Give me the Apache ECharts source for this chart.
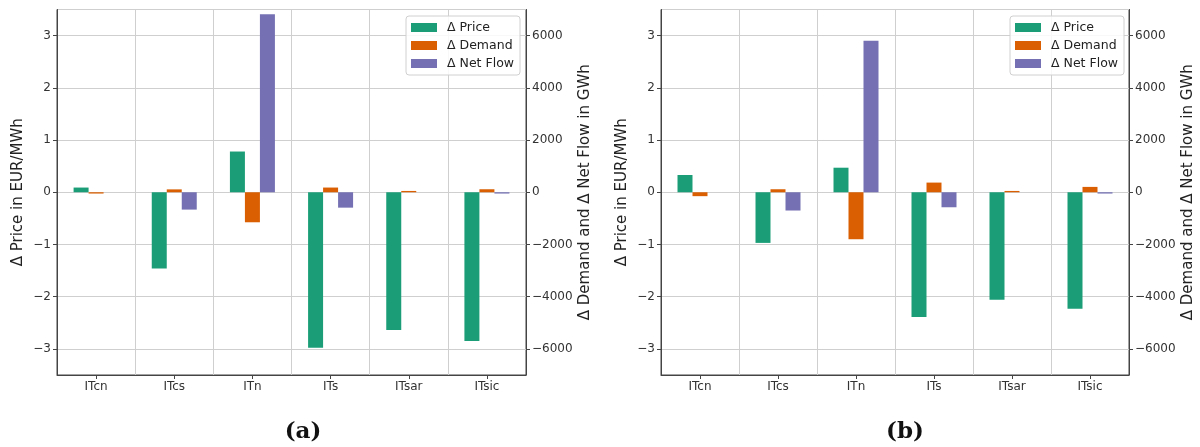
<!DOCTYPE html>
<html>
<head>
<meta charset="utf-8">
<script src="https://cdn.jsdelivr.net/npm/echarts@6/dist/echarts.min.js"></script>
<style>
html,body{margin:0;padding:0;background:#fff;}
#chart{width:1200px;height:447px;}
</style>
</head>
<body>
<div id="chart"></div>
<script>
// ---- data ----
const categories = ['ITcn', 'ITcs', 'ITn', 'ITs', 'ITsar', 'ITsic'];
const seriesNames = ['Δ Price', 'Δ Demand', 'Δ Net Flow'];
// panel (a)
const priceA   = [0.09, -1.46, 0.78, -2.98, -2.64, -2.85];
const demandA  = [-50, 110, -1150, 180, 50, 115];
const netFlowA = [0, -665, 6820, -590, 0, -50];
// panel (b)
const priceB   = [0.33, -0.97, 0.47, -2.39, -2.06, -2.23];
const demandB  = [-150, 115, -1800, 370, 50, 205];
const netFlowB = [0, -700, 5800, -575, 0, -50];
const panelLabels = ['(a)', '(b)'];
const leftAxisName = 'Δ Price in EUR/MWh';
const rightAxisName = 'Δ Demand and Δ Net Flow in GWh';

const colors = ['#1b9e77', '#d95f02', '#7570b3'];
const FONT = 'DejaVu Sans';
const minusFmt = v => String(v).replace('-', '\u2212');

const grids = [
  {left: 57, right: 674, top: 9.5, bottom: 72},
  {left: 661, right: 71, top: 9.5, bottom: 72}
];

const xAxis = [0, 1].map(i => ({
  type: 'category', gridIndex: i, data: categories,
  axisLine: {show: true, onZero: false, lineStyle: {color: '#444', width: 1}},
  axisTick: {show: true, alignWithLabel: true, length: 4, lineStyle: {color: '#444'}},
  axisLabel: {color: '#333', fontFamily: FONT, fontSize: 12, margin: 6},
  splitLine: {show: true, lineStyle: {color: '#cfcfcf', width: 1}}
}));

const yAxis = [];
[0, 1].forEach(i => {
  yAxis.push({
    type: 'value', gridIndex: i, position: 'left', min: -3.5, max: 3.5, splitNumber: 7,
    name: leftAxisName, nameLocation: 'middle', nameGap: 31, nameRotate: 90,
    nameTextStyle: {color: '#222', fontFamily: FONT, fontSize: 15},
    axisLine: {show: true, onZero: false, lineStyle: {color: '#444'}},
    axisTick: {show: true, length: 4, lineStyle: {color: '#444'}},
    axisLabel: {color: '#333', fontFamily: FONT, fontSize: 12, margin: 6,
      showMinLabel: false, showMaxLabel: false, formatter: minusFmt},
    splitLine: {show: true, lineStyle: {color: '#cfcfcf', width: 1}}
  });
  yAxis.push({
    type: 'value', gridIndex: i, position: 'right', min: -7000, max: 7000, splitNumber: 7,
    name: rightAxisName, nameLocation: 'middle', nameGap: 52, nameRotate: 90,
    nameTextStyle: {color: '#222', fontFamily: FONT, fontSize: 15},
    axisLine: {show: true, onZero: false, lineStyle: {color: '#444'}},
    axisTick: {show: true, length: 4, lineStyle: {color: '#444'}},
    axisLabel: {color: '#333', fontFamily: FONT, fontSize: 12, margin: 6,
      showMinLabel: false, showMaxLabel: false, formatter: minusFmt},
    splitLine: {show: false}
  });
});

function bar(name, data, gi, yi, ci) {
  return {
    name: name, type: 'bar', xAxisIndex: gi, yAxisIndex: yi, data: data,
    barWidth: 15, barGap: '0%',
    itemStyle: {color: colors[ci]},
    emphasis: {disabled: true}
  };
}

const series = [
  bar(seriesNames[0], priceA, 0, 0, 0),
  bar(seriesNames[1], demandA, 0, 1, 1),
  bar(seriesNames[2], netFlowA, 0, 1, 2),
  bar(seriesNames[0], priceB, 1, 2, 0),
  bar(seriesNames[1], demandB, 1, 3, 1),
  bar(seriesNames[2], netFlowB, 1, 3, 2)
];

const legendBase = {
  orient: 'vertical', top: 16, data: seriesNames,
  itemWidth: 26, itemHeight: 9, itemGap: 5, padding: [5, 6, 5, 5],
  backgroundColor: 'rgba(255,255,255,0.85)', borderColor: '#d0d0d0', borderWidth: 1, borderRadius: 3,
  textStyle: {color: '#222', fontFamily: FONT, fontSize: 12.5, padding: [0, 0, 0, 5]},
  icon: 'rect', selectedMode: false
};

const option = {
  animation: false,
  backgroundColor: '#fff',
  grid: grids.map(g => Object.assign({show: true, borderColor: '#444', borderWidth: 1, backgroundColor: 'transparent'}, g)),
  xAxis: xAxis,
  yAxis: yAxis,
  legend: [
    Object.assign({}, legendBase, {right: 680}),
    Object.assign({}, legendBase, {right: 76})
  ],
  series: series,
  graphic: [
    {type: 'text', x: 303, y: 432, style: {text: panelLabels[0], font: 'bold 23px "DejaVu Serif"', fill: '#111', textAlign: 'center', textVerticalAlign: 'middle'}},
    {type: 'text', x: 905, y: 432, style: {text: panelLabels[1], font: 'bold 23px "DejaVu Serif"', fill: '#111', textAlign: 'center', textVerticalAlign: 'middle'}}
  ]
};

const chart = echarts.init(document.getElementById('chart'), null, {renderer: 'canvas'});
chart.setOption(option);
</script>
</body>
</html>
